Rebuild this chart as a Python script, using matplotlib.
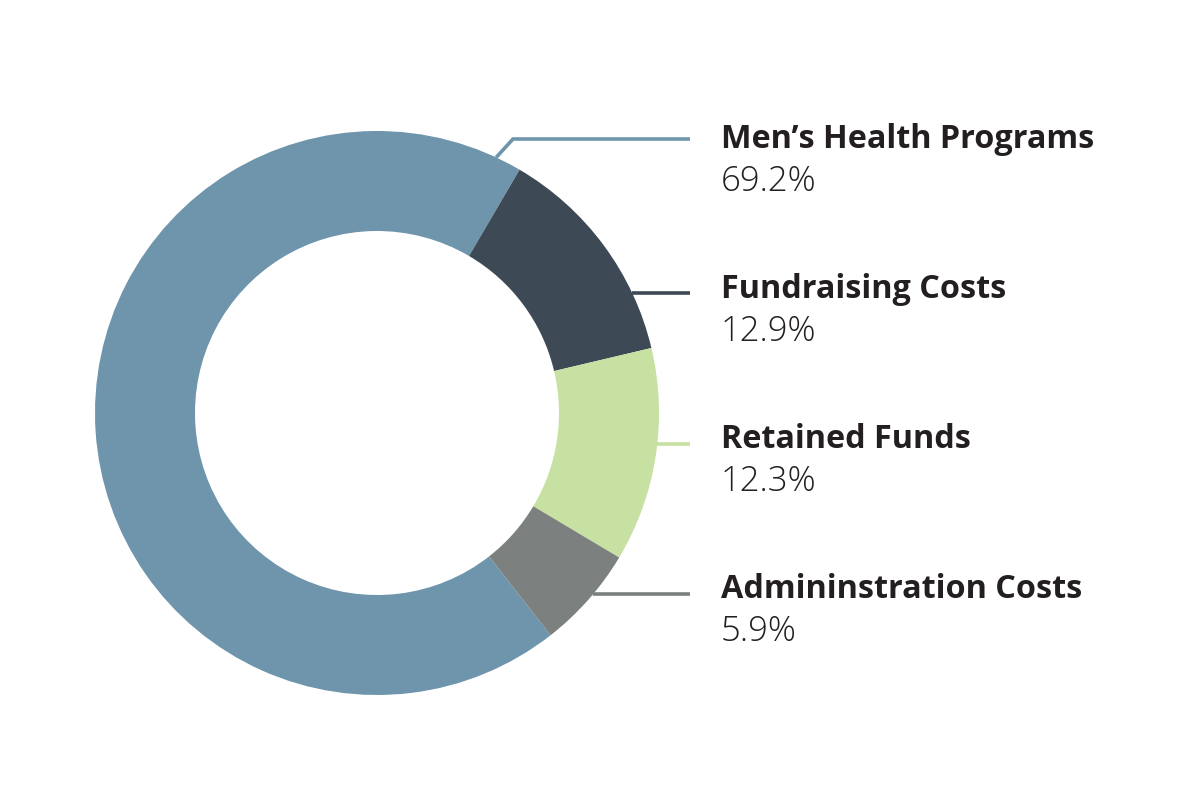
import numpy as np
import matplotlib.pyplot as plt

labels = ["Men\u2019s Health Programs", "Fundraising Costs", "Retained Funds", "Admininstration Costs"]
values = [69.2, 12.9, 12.3, 5.9]
pct_labels = ["69.2%", "12.9%", "12.3%", "5.9%"]
colors = ["#6E95AB", "#3D4A55", "#C6E1A1", "#7C807F"]

W, H = 1200, 800
fig = plt.figure(figsize=(12, 8), dpi=100)
ax = fig.add_axes([0, 0, 1, 1])
ax.set_xlim(0, W)
ax.set_ylim(0, H)
ax.set_aspect("equal")
ax.axis("off")

cx, cy = 377, H - 413
R = 282
ring = 100
ax.pie(values, colors=colors, startangle=-52, counterclock=False,
       center=(cx, cy), radius=R, frame=True,
       wedgeprops=dict(width=ring, linewidth=0))
ax.set_xlim(0, W)
ax.set_ylim(0, H)
ax.axis("off")

line_x_end = 690
text_x = 721
line_ys = [139, 293, 444, 594]
name_base = [148, 298, 448, 598]
pct_base = [191, 341, 491, 641]

for i, lab in enumerate(labels):
    ly = H - line_ys[i]
    if i == 0:
        ang = np.deg2rad(90 - 25)
        sx, sy = cx + R * np.cos(ang), cy + R * np.sin(ang)
        ax.plot([sx, 513, line_x_end], [sy, ly, ly], color=colors[i], lw=2.6,
                solid_capstyle="butt", solid_joinstyle="miter")
    else:
        dy = ly - cy
        sx = cx + np.sqrt(R ** 2 - dy ** 2)
        ax.plot([sx, line_x_end], [ly, ly], color=colors[i], lw=2.6, solid_capstyle="butt")
    ax.text(text_x, H - name_base[i], lab, fontsize=23.3, fontfamily="Open Sans", fontweight="bold",
            color="#231F20", va="baseline", ha="left")
    ax.text(text_x, H - pct_base[i], pct_labels[i], fontsize=25, fontfamily="Open Sans", fontweight="light",
            color="#231F20", va="baseline", ha="left")

fig.savefig("out.png", dpi=100, facecolor="white")
